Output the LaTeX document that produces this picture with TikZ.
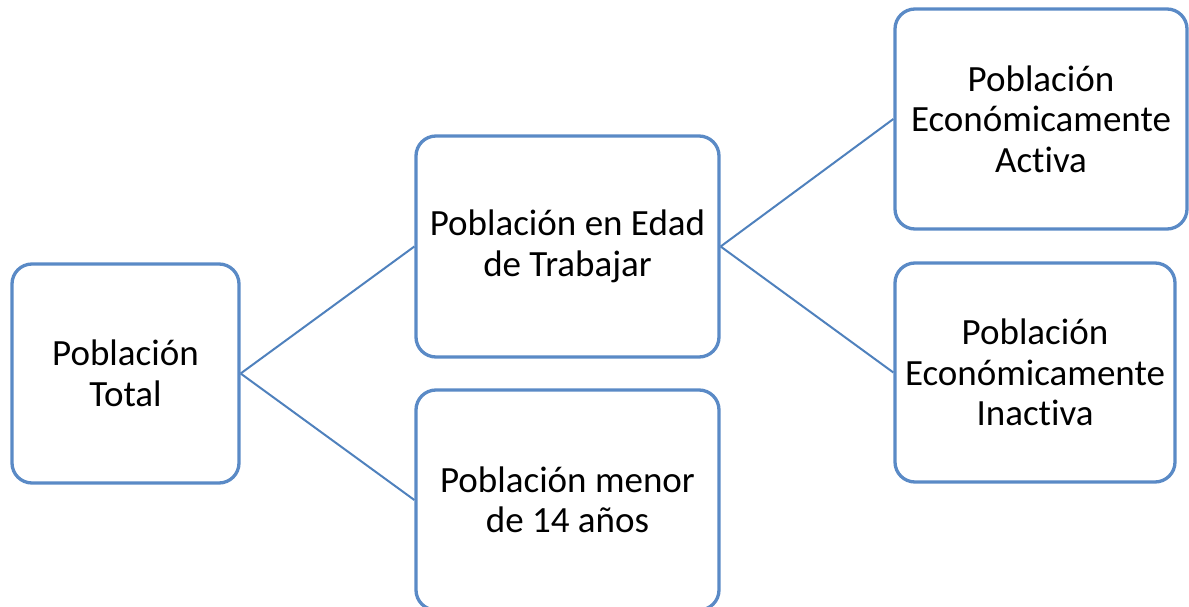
\documentclass[tikz,border=0pt]{standalone}
\usepackage{fontspec}
\setmainfont[Ligatures={NoCommon}]{Carlito}
\definecolor{boxblue}{HTML}{5A8AC6}
\definecolor{lineblue}{HTML}{4F81BD}
\tikzset{
  pbox/.style={draw=boxblue, line width=3.3pt, rounded corners=20pt, fill=white,
    align=center, inner sep=0pt, font=\fontsize{37}{40.5}\selectfont},
  conn/.style={draw=lineblue, line width=2pt}
}
\begin{document}
\begin{tikzpicture}[x=1pt,y=-1pt]
\useasboundingbox (0,0) rectangle (1189,607);
\node[pbox, minimum width=227pt, minimum height=219pt] (tot) at (125.5,373.5) {Población\\Total};
\node[pbox, minimum width=303pt, minimum height=221pt] (edad) at (567.5,246.5) {Población en Edad\\de Trabajar};
\node[pbox, minimum width=303pt, minimum height=220pt] (menor) at (567.5,500) {Población menor\\de 14 años};
\node[pbox, minimum width=292pt, minimum height=220pt] (act) at (1041,119) {Población\\Económicamente\\Activa};
\node[pbox, minimum width=280pt, minimum height=219pt] (inact) at (1035,372.5) {Población\\Económicamente\\Inactiva};
\draw[conn] (tot.east) -- (edad.west);
\draw[conn] (tot.east) -- (menor.west);
\draw[conn] (edad.east) -- (act.west);
\draw[conn] (edad.east) -- (inact.west);
\end{tikzpicture}
\end{document}
